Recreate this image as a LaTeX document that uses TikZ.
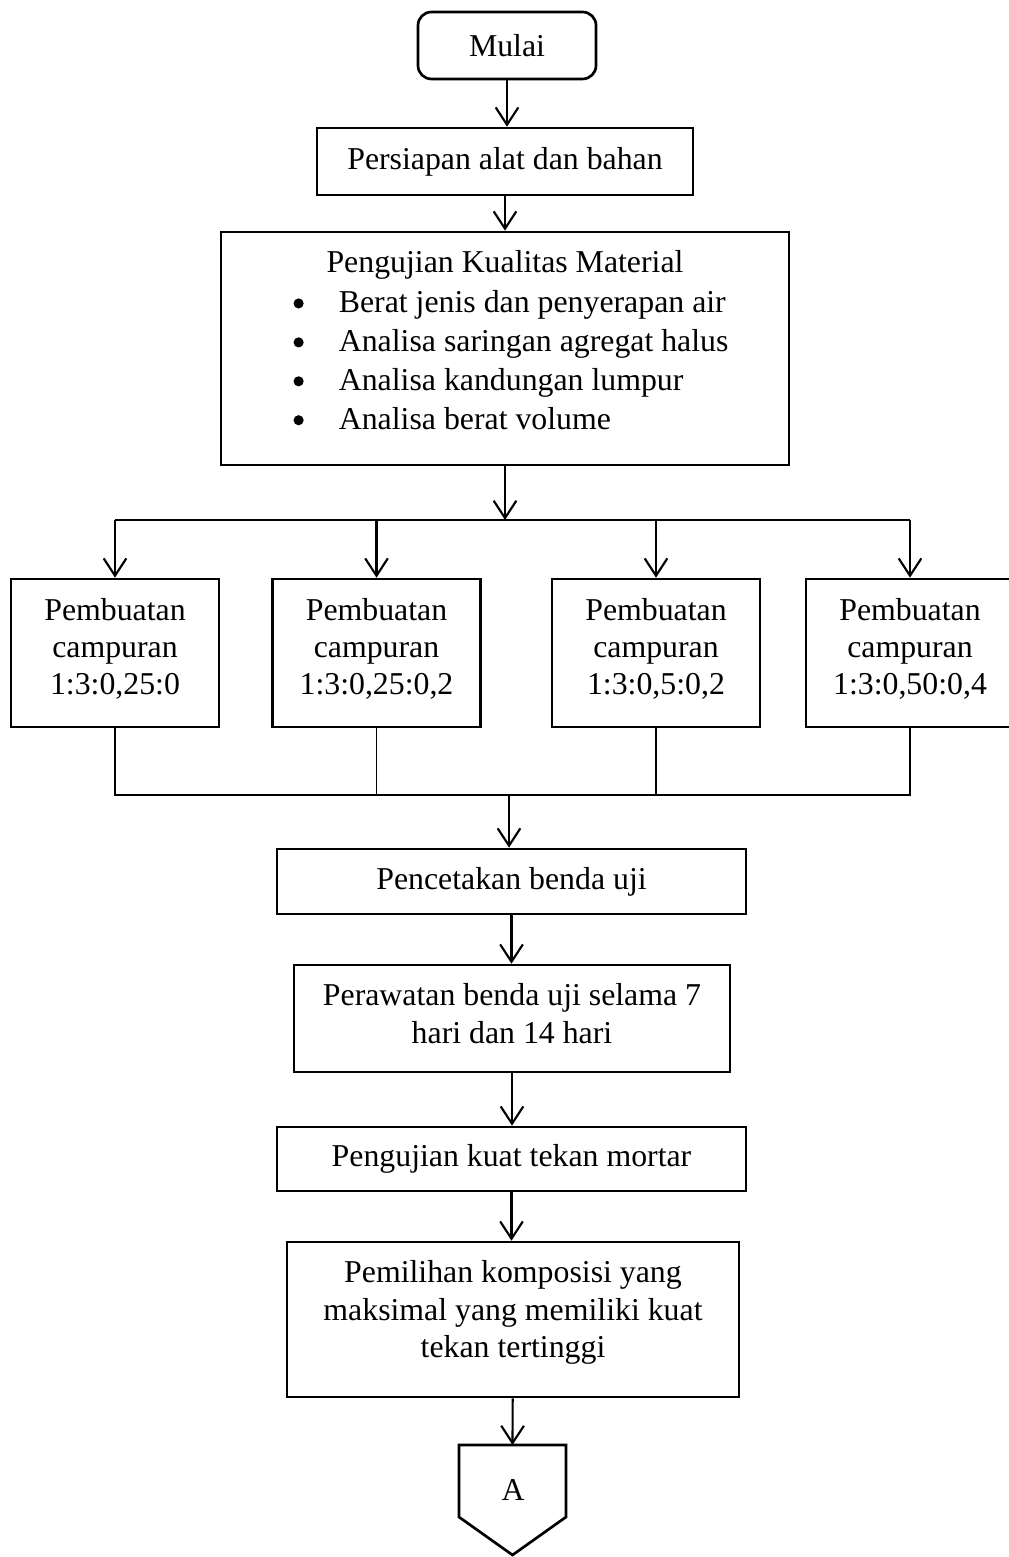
\documentclass[tikz,border=0pt]{standalone}
\usepackage{fontspec}
\setmainfont{Liberation Serif}
\usetikzlibrary{arrows.meta,positioning}

\newcommand{\titik}{\tikz[baseline]\fill (0,0.3em) circle (1.9pt);}

\begin{document}
\begin{tikzpicture}[x=0.375pt, y=-0.375pt,
		every node/.style={font=\fontsize{11.93}{14}\selectfont},
		kotak/.style={rectangle, draw, line width=1pt, align=center, inner sep=2pt},
		panah/.style={-{Straight Barb[length=6.5pt,width=8.5pt]}, line width=0.8pt},
		garis/.style={line width=0.4pt}]
	\useasboundingbox (0,0) rectangle (1008,1557);

	% Awal
	\node[kotak, rounded corners=5pt, minimum width=66.75pt, minimum height=25.1pt] (mulai) at (507,45.5) {Mulai};
	\node[kotak, minimum width=141pt, minimum height=25.1pt] (persiapan) at (505,161.5) {Persiapan alat dan bahan};

	% Pengujian material
	\node[kotak, minimum width=213pt, minimum height=87.4pt] (uji) at (505,348.5) {};
	\node (ujijudul) at (505,265) {Pengujian Kualitas Material};
	\node[anchor=base west, inner sep=0pt, font=\fontsize{11.93}{14.6}\selectfont] (ujidaftar) at (293,313) {%
		\begin{tabular}[t]{@{}p{17pt}@{}l@{}}
			\titik & Berat jenis dan penyerapan air\\
			\titik & Analisa saringan agregat halus\\
			\titik & Analisa kandungan lumpur\\
			\titik & Analisa berat volume
		\end{tabular}};

	% Campuran
	\node[kotak, minimum width=78pt, minimum height=55.5pt, text depth=4.8pt] (camp1) at (115,653) {Pembuatan\\campuran\\1:3:0,25:0};
	\node[kotak, minimum width=78pt, minimum height=55.5pt, text depth=4.8pt] (camp2) at (376.5,653) {Pembuatan\\campuran\\1:3:0,25:0,2};
	\node[kotak, minimum width=78pt, minimum height=55.5pt, text depth=4.8pt] (camp3) at (656,653) {Pembuatan\\campuran\\1:3:0,5:0,2};
	\node[kotak, minimum width=78pt, minimum height=55.5pt, text depth=4.8pt] (camp4) at (910,653) {Pembuatan\\campuran\\1:3:0,50:0,4};

	% Benda uji
	\node[kotak, minimum width=175.9pt, minimum height=24.4pt] (cetak) at (511.5,881.5) {Pencetakan benda uji};
	\node[kotak, minimum width=163.5pt, minimum height=40.1pt, text depth=3.75pt] (rawat) at (512,1018.5) {Perawatan benda uji selama 7\\hari dan 14 hari};
	\node[kotak, minimum width=175.9pt, minimum height=24pt] (tekan) at (511.5,1159) {Pengujian kuat tekan mortar};
	\node[kotak, minimum width=169.5pt, minimum height=58.1pt, text depth=7.8pt] (pilih) at (513,1319.5) {Pemilihan komposisi yang\\maksimal yang memiliki kuat\\tekan tertinggi};

	% Penghubung A
	\coordinate (atas) at (512.5,1445);
	\draw[line width=1pt] (459,1445) -- (566,1445) -- (566,1517) -- (512.5,1555) -- (459,1517) -- cycle;
	\node (konektor) at (513,1490) {A};

	% Panah
	\draw[panah] (mulai) -- (mulai |- persiapan.north);
	\draw[panah] (persiapan) -- (persiapan |- uji.north);
	\coordinate (cabang) at (505,520);
	\draw[panah] (uji) -- (cabang);
	\draw[garis] (camp1.north |- cabang) -- (camp4.north |- cabang);
	\draw[panah] (camp1.north |- cabang) -- (camp1);
	\draw[panah] (camp2.north |- cabang) -- (camp2);
	\draw[panah] (camp3.north |- cabang) -- (camp3);
	\draw[panah] (camp4.north |- cabang) -- (camp4);

	\coordinate (gabung) at (509,795);
	\draw[garis] (camp1) -- (camp1 |- gabung) -- (camp4 |- gabung) -- (camp4);
	\draw[garis] (camp2) -- (camp2 |- gabung);
	\draw[garis] (camp3) -- (camp3 |- gabung);
	\draw[panah] (gabung) -- (gabung |- cetak.north);

	\draw[panah] (cetak) -- (cetak |- rawat.north);
	\draw[panah] (rawat) -- (rawat |- tekan.north);
	\draw[panah] (tekan) -- (tekan |- pilih.north);
	\draw[panah] (pilih) -- (atas);

\end{tikzpicture}
\end{document}
